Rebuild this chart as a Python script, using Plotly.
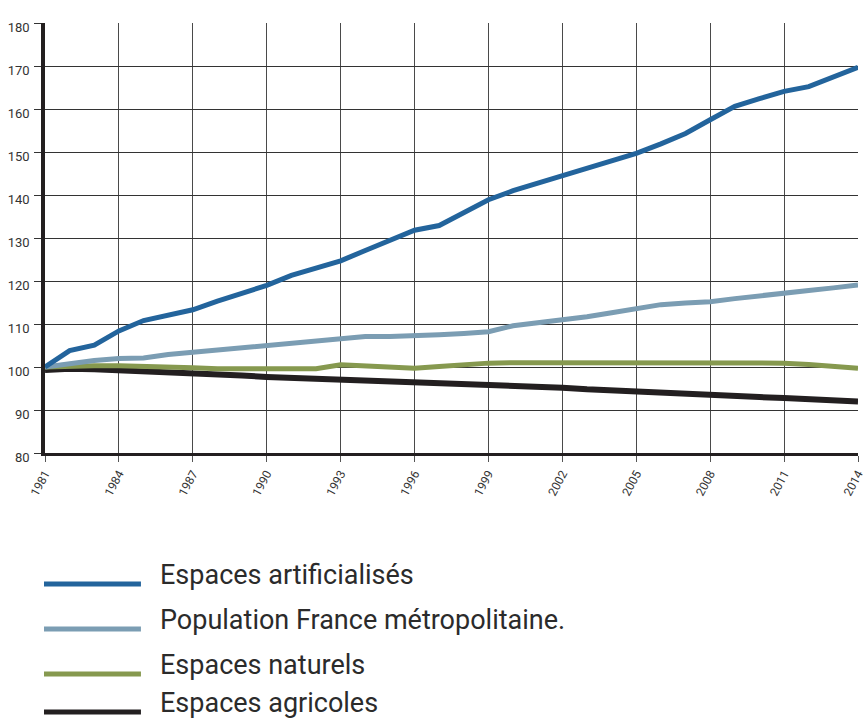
import plotly.graph_objects as go

years = list(range(1981, 2015))

artificialises = [100.0, 103.8, 105.1, 108.4, 110.8, 112.1, 113.3, 115.3, 117.2, 119.0,
                  121.3, 123.0, 124.7, 127.1, 129.5, 131.8, 132.9, 135.9, 138.9, 141.0,
                  142.8, 144.3, 146.2, 148.0, 149.7, 151.9, 154.3, 157.5, 160.6, 162.4,
                  164.1, 165.2, 167.5, 169.7]

population = [100.0, 100.8, 101.5, 102.0, 102.1, 102.9, 103.4, 103.9, 104.4, 104.9,
              105.5, 106.0, 106.6, 107.1, 107.1, 107.2, 107.5, 107.8, 108.2, 109.6,
              110.3, 110.8, 111.7, 112.6, 113.5, 114.5, 114.9, 115.2, 115.9, 116.6,
              117.2, 117.8, 118.4, 119.1]

naturels = [100.0, 100.2, 100.3, 100.3, 100.2, 100.0, 99.8, 99.6, 99.6, 99.6,
            99.6, 99.6, 100.5, 100.3, 100.0, 99.7, 100.1, 100.5, 100.9, 101.0,
            101.0, 101.0, 101.0, 101.0, 100.9, 100.9, 100.9, 100.9, 100.9, 100.9,
            100.9, 100.6, 100.2, 99.7]

agricoles = [99.3, 99.6, 99.5, 99.3, 99.1, 98.8, 98.5, 98.2, 98.0, 97.7,
             97.5, 97.3, 97.1, 96.9, 96.7, 96.5, 96.3, 96.2, 96.0, 95.7,
             95.4, 95.2, 94.8, 94.5, 94.2, 93.9, 93.6, 93.4, 93.2, 93.0,
             92.8, 92.5, 92.3, 92.0]

series_names = ["Espaces artificialisés", "Population France métropolitaine.",
                "Espaces naturels", "Espaces agricoles"]
series_colors = ["#23649c", "#7b9db3", "#86994f", "#231f20"]
series_widths = [5, 5, 5, 6]
series_values = [artificialises, population, naturels, agricoles]

x_ticks = list(range(1981, 2015, 3))
y_ticks = list(range(80, 181, 10))

W, H = 867, 718
L, R, T, B = 45, 8.5, 23, 265
pw, ph = W - L - R, H - T - B


def px(xp):
    return (xp - L) / pw


def py(yp):
    return (H - B - yp) / ph


fig = go.Figure()
# draw in reverse so blue is on top
for name, col, wd, vals in reversed(list(zip(series_names, series_colors, series_widths, series_values))):
    fig.add_trace(go.Scatter(x=years, y=vals, mode="lines", name=name,
                             line=dict(color=col, width=wd), showlegend=False,
                             hoverinfo="skip"))

shapes = []
annotations = []
legend_rows = [584, 629, 674, 712]
for i, (name, col, wd) in enumerate(zip(series_names, series_colors, series_widths)):
    yl = legend_rows[i]
    shapes.append(dict(type="line", xref="paper", yref="paper",
                       x0=px(44), x1=px(141), y0=py(yl), y1=py(yl),
                       line=dict(color=col, width=5)))
    annotations.append(dict(text=name, xref="paper", yref="paper",
                            x=px(158), y=py(yl - 9), xanchor="left", yanchor="middle",
                            showarrow=False,
                            font=dict(family="Roboto", size=27, color="#2b2b2b")))

fig.update_layout(
    width=W, height=H,
    margin=dict(l=L, r=R, t=T, b=B, autoexpand=False),
    plot_bgcolor="white", paper_bgcolor="white",
    font=dict(family="Roboto", color="#333333"),
    shapes=shapes, annotations=annotations,
    showlegend=False,
)
fig.update_xaxes(
    range=[1981, 2014], tickvals=x_ticks, ticktext=[str(v) for v in x_ticks],
    tickangle=-62, tickfont=dict(size=12, color="#333333"),
    showgrid=True, gridcolor="#4a4a4a", gridwidth=1.2,
    showline=True, linecolor="#231f20", linewidth=3,
    ticks="outside", ticklen=6, tickcolor="#555555", tickwidth=1.2,
    zeroline=False, automargin=False,
)
fig.update_yaxes(
    range=[80, 180], tickvals=y_ticks,
    tickfont=dict(size=13, color="#333333"),
    showgrid=True, gridcolor="#333333", gridwidth=1.2,
    showline=True, linecolor="#231f20", linewidth=3.5,
    ticks="outside", ticklen=7, tickcolor="#333333", tickwidth=1.2,
    ticklabelshift=4, ticklabelstandoff=2,
    zeroline=False, automargin=False,
)

fig.write_html("out.html", config={"displayModeBar": False},
               post_script="document.body.style.margin='0';document.body.style.overflow='hidden';")
